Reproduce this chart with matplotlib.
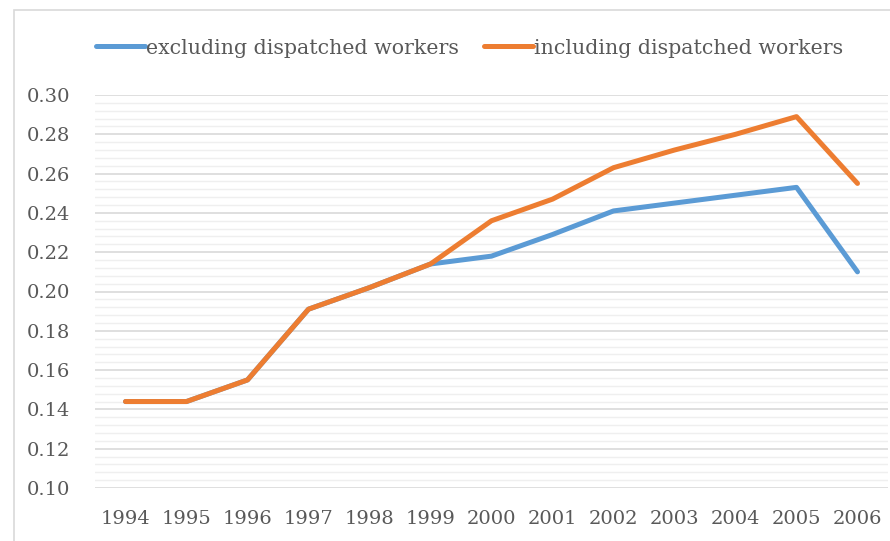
import matplotlib
matplotlib.use("Agg")
import matplotlib.pyplot as plt
from matplotlib.ticker import MultipleLocator, FormatStrFormatter
from matplotlib.patches import Rectangle

years = ["1994", "1995", "1996", "1997", "1998", "1999", "2000",
         "2001", "2002", "2003", "2004", "2005", "2006"]
excluding = [0.144, 0.144, 0.155, 0.191, 0.202, 0.214, 0.218,
             0.229, 0.241, 0.245, 0.249, 0.253, 0.210]
including = [0.144, 0.144, 0.155, 0.191, 0.202, 0.214, 0.236,
             0.247, 0.263, 0.272, 0.280, 0.289, 0.255]

plt.rcParams['font.family'] = ['DejaVu Serif']

fig = plt.figure(figsize=(8.9, 5.41), dpi=100)
W, H = 890, 541
# chart frame (cropped at right / bottom)
fig.patches.append(Rectangle((14 / W, -0.1), 1.0, 1 - 10 / H + 0.1,
                             transform=fig.transFigure, fill=False,
                             edgecolor='#d9d9d9', linewidth=1.2))

ax = fig.add_axes([95 / W, 1 - 488 / H, (888 - 95) / W, (488 - 95) / H])
x = range(len(years))
ax.plot(x, excluding, color='#5B9BD5', lw=3.6, solid_capstyle='round',
        solid_joinstyle='round', label='excluding dispatched workers', zorder=3)
ax.plot(x, including, color='#ED7D31', lw=3.6, solid_capstyle='round',
        solid_joinstyle='round', label='including dispatched workers', zorder=4)

ax.set_xlim(-0.5, len(years) - 0.5)
ax.set_ylim(0.10, 0.30)
ax.set_xticks(list(x))
ax.set_xticklabels(years)
ax.yaxis.set_major_locator(MultipleLocator(0.02))
ax.yaxis.set_minor_locator(MultipleLocator(0.004))
ax.yaxis.set_major_formatter(FormatStrFormatter('%.2f'))
ax.grid(axis='y', which='major', color='#d9d9d9', lw=1.2)
ax.grid(axis='y', which='minor', color='#efefef', lw=1.0)
ax.set_axisbelow(True)
for s in ax.spines.values():
    s.set_visible(False)
ax.tick_params(axis='both', which='both', length=0, labelsize=14,
               labelcolor='#595959')
ax.tick_params(axis='y', pad=18)
ax.tick_params(axis='x', pad=16)

ax.legend(loc='center', bbox_to_anchor=(0.5 - 0.028, 1 + (95 - 48) / 393),
          ncol=2, frameon=False, fontsize=14.8, handlelength=2.4,
          handletextpad=0.05, columnspacing=1.2, labelcolor='#595959')

fig.savefig('out.png', dpi=100)
